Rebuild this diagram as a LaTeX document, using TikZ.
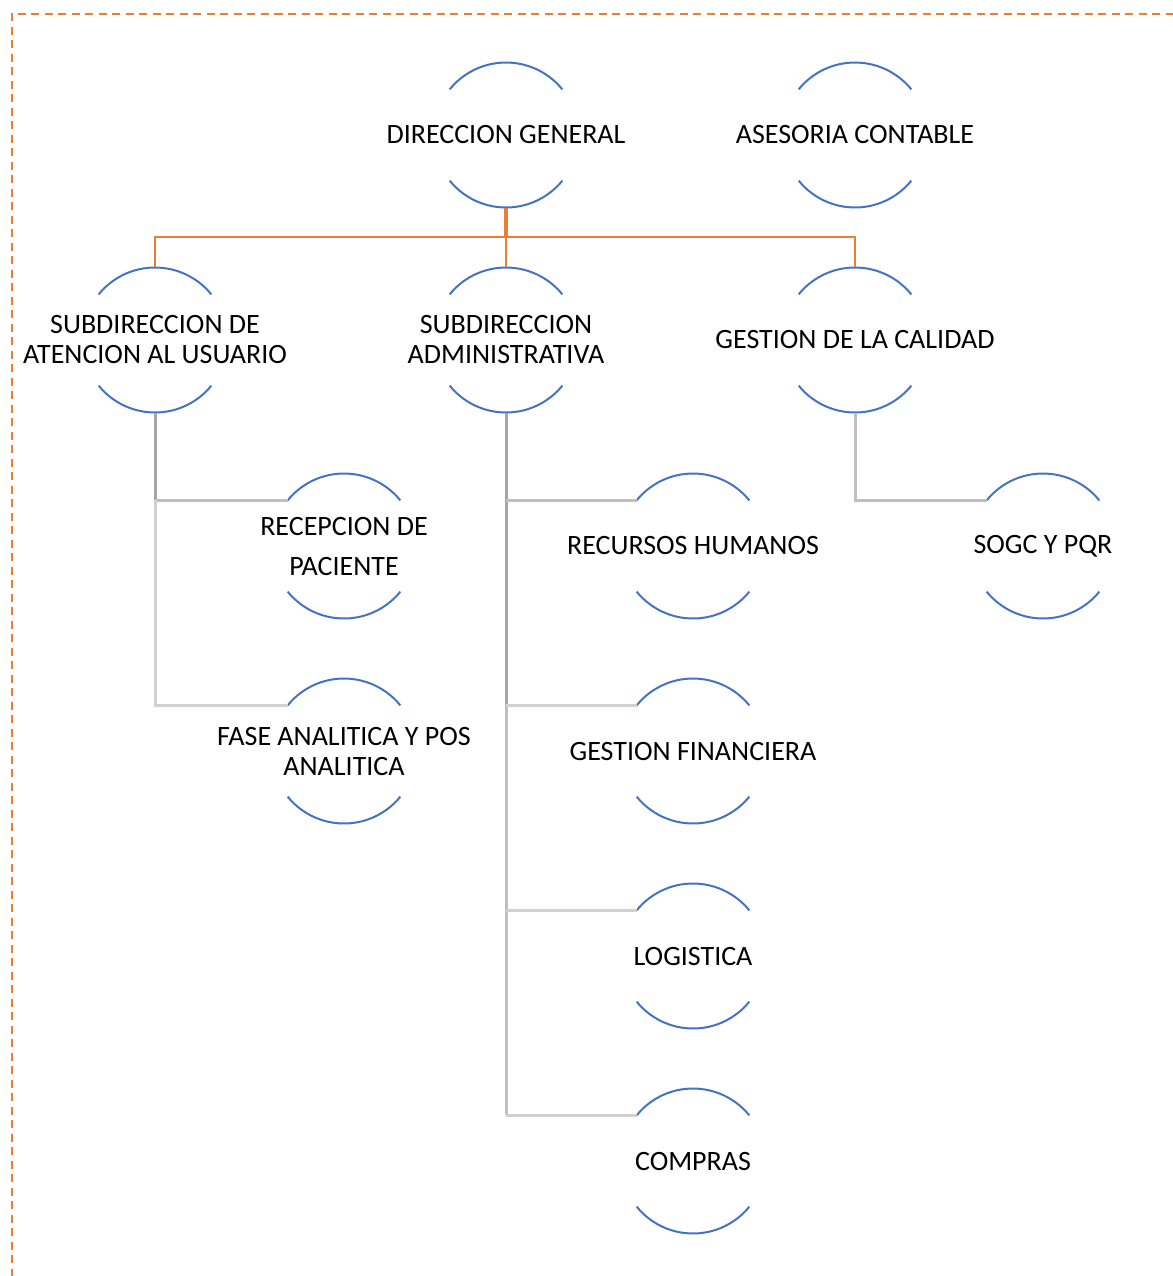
\documentclass[tikz,border=0pt]{standalone}
\usepackage{fontspec}
\setmainfont{Carlito}
\definecolor{orn}{HTML}{ED7D31}
\definecolor{blu}{HTML}{4472C4}
\definecolor{gA}{HTML}{A6A6A6}
\definecolor{gB}{HTML}{BFBFBF}
\definecolor{gC}{HTML}{D0D0D0}
\begin{document}
\begin{tikzpicture}[x=0.5pt,y=0.5pt,
  box/.style={minimum width=72.5pt,minimum height=72.5pt,inner sep=0pt,align=center,font=\fontsize{14}{15}\selectfont},
  arcline/.style={draw=blu,line width=1pt},
  orgline/.style={draw=orn,line width=1pt},
  gline/.style={line width=1.5pt}]
\useasboundingbox (0,0) rectangle (1173,-1276);
\draw[orn,line width=1pt,dash pattern=on 4pt off 2.75pt] (11.5,-1290) -- (11.5,-14) -- (1190,-14);

\node[box] (dg) at (506,-135) {DIRECCION GENERAL};
\node[box] (ac) at (855,-135) {ASESORIA CONTABLE};
\node[box] (sa) at (155,-340) {SUBDIRECCION DE\\ATENCION AL USUARIO};
\node[box] (sd) at (506,-340) {SUBDIRECCION\\ADMINISTRATIVA};
\node[box] (gc) at (855,-340) {GESTION DE LA CALIDAD};
\node[box,font=\fontsize{14}{20}\selectfont] (rp) at (344,-546) {RECEPCION DE\\PACIENTE};
\node[box] (fa) at (344,-751) {FASE ANALITICA Y POS\\ANALITICA};
\node[box] (rh) at (693,-546) {RECURSOS HUMANOS};
\node[box] (gf) at (693,-751) {GESTION FINANCIERA};
\node[box] (lo) at (693,-956) {LOGISTICA};
\node[box] (co) at (693,-1161) {COMPRAS};
\node[box] (sg) at (1043,-546) {SOGC Y PQR};

\foreach \n in {dg,ac,sa,sd,gc,rp,fa,rh,gf,lo,co,sg}{
  \draw[arcline] ([shift={(39:36.25pt)}]\n.center) arc (39:141:36.25pt);
  \draw[arcline] ([shift={(219:36.25pt)}]\n.center) arc (219:321:36.25pt);
  \coordinate (\n-t) at ([shift={(141:36.25pt)}]\n.center);
}

% orange connectors
\coordinate (bar) at (506,-237);
\draw[orn,line width=1.75pt] (dg.south) -- (bar);
\draw[orgline] (sa.north) |- (bar) -| (gc.north);
\draw[orgline] (bar) -- (sd.north);

% left branch
\draw[gline,gA] (sa.south) -- (sa.south |- rp-t);
\draw[gline,gB] (sa.south |- rp-t) -- (rp-t);
\draw[gline,gC] (sa.south |- rp-t) |- (fa-t);

% admin branch
\draw[gline,gA] (sd.south) -- (sd.south |- gf-t);
\draw[gline,gB] (sd.south |- gf-t) -- (sd.south |- co-t);
\draw[gline,gB] (sd.south |- rh-t) -- (rh-t);
\draw[gline,gC] (sd.south |- gf-t) -- (gf-t);
\draw[gline,gC] (sd.south |- lo-t) -- (lo-t);
\draw[gline,gC] (sd.south |- co-t) -- (co-t);

% calidad branch
\draw[gline,gB] (gc.south) |- (sg-t);
\end{tikzpicture}
\end{document}
